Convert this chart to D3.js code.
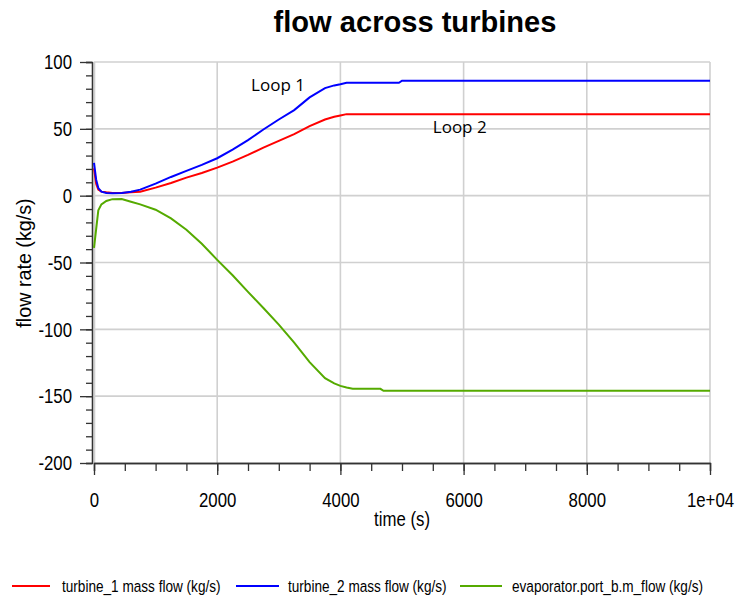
<!DOCTYPE html>
<html>
<head>
<meta charset="utf-8">
<script src="https://cdn.jsdelivr.net/npm/d3@7"></script>
<style>
body { margin: 0; background: #fff; }
text { font-family: "Liberation Sans", Arial, sans-serif; fill: #000; }
</style>
</head>
<body>
<svg id="chart" width="743" height="602"></svg>
<script>
// simulation output
const time = [0, 35, 70, 120, 200, 300, 450, 600, 750, 1000, 1250, 1500, 1750, 2000, 2250, 2500, 2750, 3000, 3250, 3500, 3750, 3900, 4000, 4100, 4200, 4650, 4700, 4950, 5000, 10000];
const turbine1 = [20.5, 9, 4.5, 3, 2.5, 2, 2, 2.5, 3, 6, 9.5, 13.5, 17, 21, 25.5, 30.5, 36, 41, 46, 52, 57, 59, 60, 61, 61, 61, 61, 61, 61, 61];
const turbine2 = [24.5, 12, 5.7, 3, 2, 1.8, 2, 3, 4.5, 9, 14, 18.5, 23, 28, 34.5, 41.5, 49.5, 57, 64, 73.5, 80.5, 82.5, 83.3, 84.5, 84.5, 84.5, 84.5, 84.5, 86, 86];
const evaporator = [-39, -25, -11, -6.5, -4, -2.6, -2.5, -4.5, -6.5, -10.5, -17, -25.5, -36, -48, -59.5, -72, -84, -96.5, -110, -124.5, -136.5, -140.5, -142.3, -143.5, -144.5, -144.5, -146, -146, -146, -146];

const seriesNames = ["turbine_1 mass flow (kg/s)", "turbine_2 mass flow (kg/s)", "evaporator.port_b.m_flow (kg/s)"];
const seriesColors = ["#ff0000", "#0000ff", "#55aa00"];
const xTicks = [0, 2000, 4000, 6000, 8000, 10000];
const yTicks = [-200, -150, -100, -50, 0, 50, 100];
const loopLabels = [{text: "Loop 1", t: 2550, v: 78}, {text: "Loop 2", t: 5500, v: 47}];

let svg = d3.select("#chart");
let margin = {left: 94, top: 62, right: 33, bottom: 139};
let width = +svg.attr("width") - margin.left - margin.right;
let height = +svg.attr("height") - margin.top - margin.bottom;

let x = d3.scaleLinear().domain([0, 10000]).range([0, width]);
let y = d3.scaleLinear().domain([-200, 100]).range([height, 0]);
let g = svg.append("g").attr("transform", `translate(${margin.left}, ${margin.top})`);

// the original uses a narrow font: squash texts horizontally with a transform
let narrow = (sel, k) => sel.each(function () {
    let t = d3.select(this);
    let x0 = +t.attr("x") || 0;
    let tr = t.attr("transform") || "";
    t.attr("x", x0 / k).attr("transform", `${tr} scale(${k},1)`);
});

// grid + plot frame
g.append("g").selectAll("line").data(xTicks.slice(1)).enter().append("line")
    .attr("x1", d => x(d)).attr("x2", d => x(d)).attr("y1", 0).attr("y2", height)
    .attr("stroke", "#d0d0d0").attr("stroke-width", 1.6);
g.append("g").selectAll("line").data(yTicks.slice(1)).enter().append("line")
    .attr("x1", 0).attr("x2", width).attr("y1", d => y(d)).attr("y2", d => y(d))
    .attr("stroke", "#d0d0d0").attr("stroke-width", 1.6);
g.append("line").attr("x1", 0.5).attr("x2", 0.5).attr("y1", 0).attr("y2", height)
    .attr("stroke", "#d0d0d0").attr("stroke-width", 1.6);

// minor ticks every 10 (y) and 500 (x)
let yMinor = d3.range(-200, 101, 10);
let xMinor = d3.range(0, 10001, 500);

let yAxisG = g.append("g").attr("transform", "translate(-2,0)");
yAxisG.append("g").call(d3.axisLeft(y).tickValues(yMinor).tickSize(6).tickFormat(""));
yAxisG.append("g").call(d3.axisLeft(y).tickValues(yTicks).tickSize(12).tickSizeOuter(0).tickPadding(8)
    .tickFormat(d => String(d)));

let xAxisG = g.append("g").attr("transform", `translate(0, ${height})`);
xAxisG.append("g").call(d3.axisBottom(x).tickValues(xMinor).tickSize(8).tickFormat(""));
xAxisG.append("g").call(d3.axisBottom(x).tickValues(xTicks).tickSize(12).tickSizeOuter(0).tickPadding(17)
    .tickFormat(d => d === 10000 ? "1e+04" : String(d)));

svg.selectAll(".domain, .tick line").attr("stroke", "#333").attr("stroke-width", 1.3);
svg.selectAll(".tick text")
    .style("font-size", "21px")
    .style("font-family", '"Liberation Sans", Arial, sans-serif')
    .attr("fill", "#000")
    .call(narrow, 0.8);

// series
let line = d3.line().x((d, i) => x(time[i])).y(d => y(d));
[turbine1, turbine2, evaporator].forEach((vals, i) => {
    g.append("path")
        .datum(vals)
        .attr("d", line)
        .attr("fill", "none")
        .attr("stroke", seriesColors[i])
        .attr("stroke-width", 2);
});

// Loop annotations
g.selectAll(".loop").data(loopLabels).enter().append("text")
    .attr("class", "loop")
    .attr("x", d => x(d.t))
    .attr("y", d => y(d.v))
    .style("font-family", '"Open Sans", sans-serif')
    .style("font-size", "17px")
    .text(d => d.text);

// titles
svg.append("text")
    .attr("x", 415).attr("y", 32)
    .attr("text-anchor", "middle")
    .style("font-size", "30px").style("font-weight", "bold")
    .text("flow across turbines")
    .call(narrow, 0.97);
svg.append("text")
    .attr("x", 402).attr("y", 526)
    .attr("text-anchor", "middle")
    .style("font-size", "20px")
    .text("time (s)")
    .call(narrow, 0.84);
svg.append("text")
    .attr("transform", `translate(31, 263) rotate(-90)`)
    .attr("text-anchor", "middle")
    .style("font-size", "21px")
    .text("flow rate (kg/s)")
    .call(narrow, 0.94);

// legend
const legendLine = [[12, 50], [236, 279], [460, 502]];
const legendTextX = [62, 288, 512];
let legend = svg.append("g").attr("transform", "translate(0, 586)");
seriesNames.forEach((name, i) => {
    legend.append("line")
        .attr("x1", legendLine[i][0]).attr("x2", legendLine[i][1])
        .attr("y1", 0).attr("y2", 0)
        .attr("stroke", seriesColors[i]).attr("stroke-width", 2);
    legend.append("text")
        .attr("x", legendTextX[i]).attr("y", 6)
        .style("font-size", "17px")
        .text(name)
        .call(narrow, 0.8);
});
</script>
</body>
</html>
